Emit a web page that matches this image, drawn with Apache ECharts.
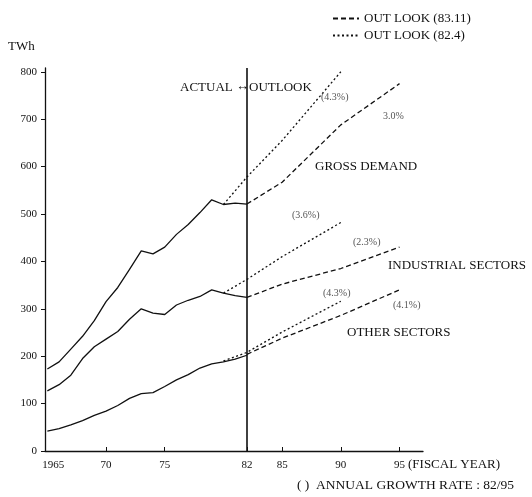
<!DOCTYPE html>
<html>
<head>
<meta charset="utf-8">
<script src="https://cdn.jsdelivr.net/npm/echarts@6/dist/echarts.min.js"></script>
<style>
html,body{margin:0;padding:0;background:#fff;}
#c{width:532px;height:497px;}
</style>
</head>
<body>
<div id="c"></div>
<script>
// ---- data (TWh) ----
const actualYears = [1965,1966,1967,1968,1969,1970,1971,1972,1973,1974,1975,1976,1977,1978,1979,1980,1981,1982];
const grossActual = [173,188,215,242,275,315,345,383,422,416,430,457,478,503,530,520,523,521];
const industrialActual = [127,140,160,195,220,236,252,278,300,291,288,308,318,326,340,333,328,324];
const otherActual = [42,47,55,64,75,84,96,111,121,123,136,150,161,175,184,188,194,202];

const outlookYears8311 = [1982,1985,1990,1995];
const gross8311 = [521,567,688,775];
const industrial8311 = [324,352,385,430];
const other8311 = [204,238,286,340];

const outlookYears824 = [1980,1982,1985,1990];
const gross824 = [520,578,655,800];
const industrial824 = [333,362,410,482];
const other824 = [190,208,251,316];

const yTicks = [0,100,200,300,400,500,600,700,800];
const xTicks = [1965,1970,1975,1982,1985,1990,1995];
const xTickLabels = ['1965','70','75','82','85','90','95'];

function pairs(xs, ys){ return xs.map((x,i)=>[x, ys[i]]); }

const SERIF = "'Liberation Serif','DejaVu Serif',serif";
const INK = '#111';

const solid = {color: INK, width: 1.3, type: 'solid'};
const dash8311 = {color: INK, width: 1.3, type: [5,3]};
const dash824 = {color: INK, width: 1.3, type: [2,2.5]};

function lineSeries(name, data, style, extra){
  return Object.assign({
    name: name, type: 'line', data: data, symbol: 'none', showSymbol: false,
    lineStyle: style, itemStyle: {color: INK}, silent: true, z: 3
  }, extra || {});
}

const series = [
  lineSeries('GROSS DEMAND', pairs(actualYears, grossActual), solid, {
    markLine: {
      silent: true, symbol: ['none','none'], label: {show: false},
      lineStyle: {color: INK, width: 1.6, type: 'solid'},
      data: [[{coord: [1982, 0]}, {coord: [1982, 808]}]]
    }
  }),
  lineSeries('INDUSTRIAL SECTORS', pairs(actualYears, industrialActual), solid),
  lineSeries('OTHER SECTORS', pairs(actualYears, otherActual), solid),
  lineSeries('OUT LOOK (83.11)', pairs(outlookYears8311, gross8311), dash8311),
  lineSeries('OUT LOOK (83.11)', pairs(outlookYears8311, industrial8311), dash8311),
  lineSeries('OUT LOOK (83.11)', pairs(outlookYears8311, other8311), dash8311),
  lineSeries('OUT LOOK (82.4)', pairs(outlookYears824, gross824), dash824),
  lineSeries('OUT LOOK (82.4)', pairs(outlookYears824, industrial824), dash824),
  lineSeries('OUT LOOK (82.4)', pairs(outlookYears824, other824), dash824)
];

const chart = echarts.init(document.getElementById('c'));

function txt(x, y, s, opt){
  return {
    type: 'text', left: x, top: y, silent: true,
    style: Object.assign({text: s, fill: INK, font: '13px ' + SERIF}, (opt||{}))
  };
}
const PCT = {fill: '#555', font: '10px ' + SERIF};

chart.setOption({
  animation: false,
  backgroundColor: '#fff',
  grid: {left: 45, right: 109, top: 68, bottom: 46, containLabel: false},
  legend: {
    data: ['OUT LOOK (83.11)', 'OUT LOOK (82.4)'],
    orient: 'vertical', left: 327, top: 7, itemGap: 4,
    itemWidth: 26, itemHeight: 10, selectedMode: false,
    itemStyle: {opacity: 0},
    textStyle: {color: INK, fontFamily: SERIF, fontSize: 13}
  },
  xAxis: {
    type: 'value', min: 1964.8, max: 1997,
    axisLine: {show: true, lineStyle: {color: INK, width: 1.3}},
    axisTick: {show: true, inside: true, length: 4, customValues: xTicks.slice(1), lineStyle: {color: INK}},
    axisLabel: {
      customValues: xTicks, margin: 9, color: INK, fontFamily: SERIF, fontSize: 11,
      formatter: function(v){
        const i = xTicks.indexOf(Math.round(v));
        if (i < 0) return '';
        return i === 0 ? '{first|' + xTickLabels[i] + '}' : xTickLabels[i];
      },
      rich: {first: {padding: [0, 0, 0, 12], fontFamily: SERIF, fontSize: 11, color: INK}}
    },
    splitLine: {show: false}
  },
  yAxis: {
    type: 'value', min: 0, max: 808,
    axisLine: {show: true, lineStyle: {color: INK, width: 1.3}},
    axisTick: {show: true, length: 4, customValues: yTicks, lineStyle: {color: INK}},
    axisLabel: {customValues: yTicks, margin: 8, color: INK, fontFamily: SERIF, fontSize: 11},
    splitLine: {show: false}
  },
  series: series,
  graphic: [
    txt(8, 40, 'TWh'),
    txt(180, 81, 'ACTUAL'),
    txt(236, 80, '\u2194', {font: '13px ' + SERIF}),
    txt(249, 81, 'OUTLOOK'),
    txt(321, 92, '(4.3%)', PCT),
    txt(383, 111, '3.0%', PCT),
    txt(315, 160, 'GROSS DEMAND'),
    txt(292, 210, '(3.6%)', PCT),
    txt(353, 237, '(2.3%)', PCT),
    txt(388, 259, 'INDUSTRIAL SECTORS'),
    txt(323, 288, '(4.3%)', PCT),
    txt(393, 300, '(4.1%)', PCT),
    txt(347, 326, 'OTHER SECTORS'),
    txt(408, 458, '(FISCAL YEAR)'),
    txt(297, 478, '( )  ANNUAL GROWTH RATE : 82/95', {font: '13.5px ' + SERIF})
  ]
});
</script>
</body>
</html>
